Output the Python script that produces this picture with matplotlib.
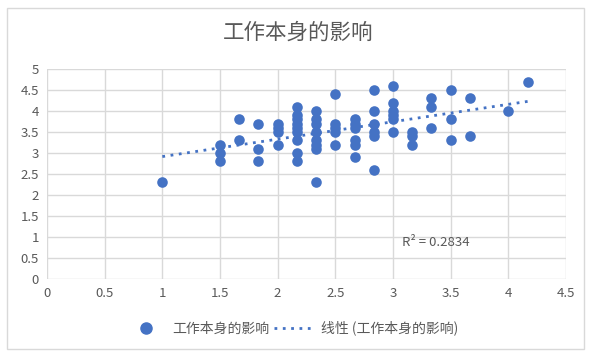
import matplotlib
matplotlib.use("Agg")
import matplotlib.pyplot as plt
import numpy as np
from matplotlib.lines import Line2D
from matplotlib.patches import Rectangle

plt.rcParams['font.family'] = ['Noto Sans CJK SC', 'DejaVu Sans']

title = "工作本身的影响"
series_name = "工作本身的影响"
trend_name = "线性 (工作本身的影响)"
r2_label = "R² = 0.2834"

xs = [1.0,
      1.5, 1.5, 1.5,
      1.667, 1.667,
      1.833, 1.833, 1.833,
      2.0, 2.0, 2.0, 2.0,
      2.167, 2.167, 2.167, 2.167, 2.167, 2.167, 2.167, 2.167, 2.167,
      2.333, 2.333, 2.333, 2.333, 2.333, 2.333, 2.333, 2.333,
      2.5, 2.5, 2.5, 2.5, 2.5,
      2.667, 2.667, 2.667, 2.667, 2.667, 2.667,
      2.833, 2.833, 2.833, 2.833, 2.833, 2.833,
      3.0, 3.0, 3.0, 3.0, 3.0, 3.0,
      3.167, 3.167, 3.167,
      3.333, 3.333, 3.333,
      3.5, 3.5, 3.5,
      3.667, 3.667,
      4.0,
      4.167]
ys = [2.3,
      3.2, 3.0, 2.8,
      3.8, 3.3,
      3.7, 3.1, 2.8,
      3.7, 3.6, 3.5, 3.2,
      4.1, 3.9, 3.8, 3.7, 3.6, 3.5, 3.3, 3.0, 2.8,
      4.0, 3.8, 3.7, 3.5, 3.3, 3.2, 3.1, 2.3,
      4.4, 3.7, 3.6, 3.5, 3.2,
      3.8, 3.7, 3.6, 3.3, 3.2, 2.9,
      4.5, 4.0, 3.7, 3.5, 3.4, 2.6,
      4.6, 4.2, 4.0, 3.9, 3.8, 3.5,
      3.5, 3.4, 3.2,
      4.3, 4.1, 3.6,
      4.5, 3.8, 3.3,
      4.3, 3.4,
      4.0,
      4.7]

x_ticks = [0, 0.5, 1, 1.5, 2, 2.5, 3, 3.5, 4, 4.5]
y_ticks = [0, 0.5, 1, 1.5, 2, 2.5, 3, 3.5, 4, 4.5, 5]

blue = "#4472C4"
grid_c = "#D9D9D9"
text_c = "#595959"

fig = plt.figure(figsize=(5.96, 3.58), dpi=100)
fig.patches.append(Rectangle((7/596, 9/358), 577/596, 341/358, transform=fig.transFigure,
                             fill=False, edgecolor=grid_c, linewidth=1.0))
ax = fig.add_axes([47/596, (358-279)/358, 519/596, 210/358])

x = np.array(xs); y = np.array(ys)
ax.scatter(x, y, s=58, color=blue, zorder=3, linewidths=0)
m, b = np.polyfit(x, y, 1)
xl = np.array([x.min(), x.max()])
ax.plot(xl, m*xl + b, color=blue, linestyle=(0, (1, 2)), linewidth=2.0, zorder=2)

ax.set_xlim(0, 4.5)
ax.set_ylim(0, 5)
ax.set_xticks(x_ticks)
ax.set_yticks(y_ticks)
ax.set_xticklabels([f"{v:g}" for v in x_ticks])
ax.set_yticklabels([f"{v:g}" for v in y_ticks])
ax.grid(True, color=grid_c, linewidth=1.0, zorder=0)
ax.set_axisbelow(True)
for s in ax.spines.values():
    s.set_visible(False)
ax.tick_params(length=0, colors=text_c, labelsize=9.5, pad=6)

ax.text(3.08, 0.88, r2_label, color=text_c, fontsize=9.5, va="center", ha="left")

fig.text(0.5, 1 - 33/358, title, ha="center", va="center", fontsize=15.5, color=text_c)

handles = [Line2D([], [], marker="o", linestyle="none", color=blue, markersize=8),
           Line2D([], [], color=blue, linestyle=(0, (1, 2)), linewidth=2.0)]
fig.legend(handles, [series_name, trend_name], loc="center", bbox_to_anchor=(292/596, 1 - 328/358),
           ncol=2, frameon=False, fontsize=10, labelcolor=text_c, handlelength=2.95,
           columnspacing=0.35, handletextpad=0.43)

fig.savefig("out.png", dpi=100)
